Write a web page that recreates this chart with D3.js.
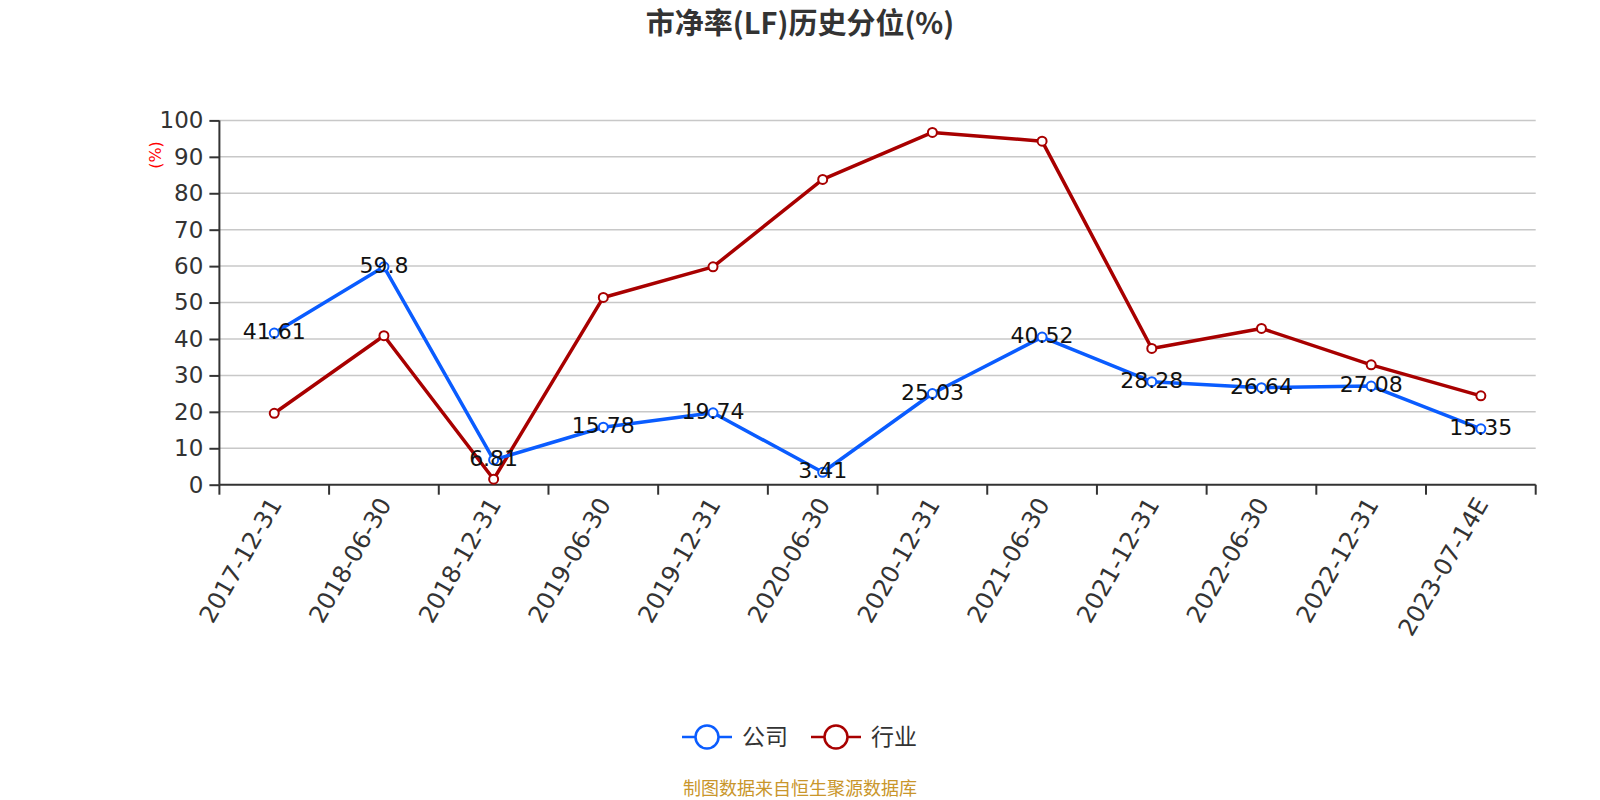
<!DOCTYPE html>
<html>
<head>
<meta charset="utf-8">
<script src="https://cdn.jsdelivr.net/npm/d3@7"></script>
<style>
  html, body { margin: 0; padding: 0; background: #fff; }
  svg { display: block; }
</style>
</head>
<body>
<svg id="chart" width="1600" height="800"></svg>
<script>
const categories = ["2017-12-31","2018-06-30","2018-12-31","2019-06-30","2019-12-31","2020-06-30","2020-12-31","2021-06-30","2021-12-31","2022-06-30","2022-12-31","2023-07-14E"];
const companyValues = [41.61, 59.8, 6.81, 15.78, 19.74, 3.41, 25.03, 40.52, 28.28, 26.64, 27.08, 15.35];
const industryValues = [19.6, 40.9, 1.5, 51.4, 59.8, 83.8, 96.7, 94.3, 37.4, 42.9, 32.9, 24.4];
const yTicks = [0, 10, 20, 30, 40, 50, 60, 70, 80, 90, 100];
const seriesNames = ["公司", "行业"];
const seriesColors = ["#0a5cff", "#a80000"];

const svg = d3.select("#chart");
const margin = { left: 219.4, right: 1535.7, top: 120.4, bottom: 484.7 };
const numFont = "'DejaVu Sans', 'Noto Sans CJK SC', sans-serif";
const cjkFont = "'Noto Sans CJK SC', 'DejaVu Sans', sans-serif";

const x = d3.scaleBand().domain(categories).range([margin.left, margin.right]).padding(0);
const y = d3.scaleLinear().domain([0, 100]).range([margin.bottom, margin.top]);
const cx = d => x(d) + x.bandwidth() / 2;

// Title
svg.append("text")
  .attr("x", 800).attr("y", 34)
  .attr("text-anchor", "middle")
  .attr("font-family", cjkFont)
  .attr("font-weight", "bold")
  .attr("font-size", 29)
  .attr("fill", "#333")
  .text("市净率(LF)历史分位(%)");

// Grid lines
svg.append("g").selectAll("line")
  .data(yTicks.filter(t => t > 0))
  .join("line")
  .attr("x1", margin.left).attr("x2", margin.right)
  .attr("y1", d => y(d)).attr("y2", d => y(d))
  .attr("stroke", "#c8c8c8").attr("stroke-width", 1.5);

// Y axis
const yAxis = svg.append("g")
  .attr("transform", `translate(${margin.left},0)`)
  .call(d3.axisLeft(y).tickValues(yTicks).tickSize(10).tickPadding(6));
yAxis.select(".domain").attr("stroke", "#333").attr("stroke-width", 2).attr("d", `M0,${margin.top}V${margin.bottom}`);
yAxis.selectAll(".tick line").attr("stroke", "#333").attr("stroke-width", 2);
yAxis.selectAll(".tick text").attr("font-family", numFont).attr("font-size", 23).attr("fill", "#333");

// Y unit
svg.append("text")
  .attr("transform", "translate(161,155) rotate(-90)")
  .attr("text-anchor", "middle")
  .attr("font-family", numFont)
  .attr("font-size", 16)
  .attr("fill", "#ff0000")
  .text("(%)");

// X axis
const xAxis = svg.append("g")
  .attr("transform", `translate(0,${margin.bottom})`)
  .call(d3.axisBottom(x).tickSize(0).tickFormat(""));
xAxis.select(".domain").attr("stroke", "#333").attr("stroke-width", 2).attr("d", `M${margin.left},0H${margin.right}`);
const bounds = categories.map(c => x(c)).concat([margin.right]);
xAxis.append("g").selectAll("line")
  .data(bounds).join("line")
  .attr("x1", d => d).attr("x2", d => d)
  .attr("y1", 0).attr("y2", 10)
  .attr("stroke", "#333").attr("stroke-width", 2);
xAxis.append("g").selectAll("text")
  .data(categories).join("text")
  .attr("transform", d => `translate(${cx(d) + 1},${15}) rotate(-60)`)
  .attr("text-anchor", "end")
  .attr("dy", "0.35em")
  .attr("font-family", numFont)
  .attr("font-size", 24)
  .attr("fill", "#333")
  .text(d => d);

// Lines
const allSeries = [companyValues, industryValues];
const line = d3.line().x((d, i) => cx(categories[i])).y(d => y(d));
[1, 0].forEach(si => {
  const vals = allSeries[si];
  const g = svg.append("g");
  g.append("path")
    .attr("d", line(vals))
    .attr("fill", "none")
    .attr("stroke", seriesColors[si])
    .attr("stroke-width", 3.5)
    .attr("stroke-linejoin", "round");
  g.selectAll("circle").data(vals).join("circle")
    .attr("cx", (d, i) => cx(categories[i]))
    .attr("cy", d => y(d))
    .attr("r", 4.5)
    .attr("fill", "#fff")
    .attr("stroke", seriesColors[si])
    .attr("stroke-width", 2);
});

// Data labels (company)
svg.append("g").selectAll("text")
  .data(companyValues).join("text")
  .attr("x", (d, i) => cx(categories[i]))
  .attr("y", d => y(d) + 6)
  .attr("text-anchor", "middle")
  .attr("font-family", numFont)
  .attr("font-size", 22)
  .attr("fill", "#111")
  .text(d => String(d));

// Legend
const legendItems = [
  { name: seriesNames[0], color: seriesColors[0], x0: 682 },
  { name: seriesNames[1], color: seriesColors[1], x0: 811 }
];
const lg = svg.append("g");
legendItems.forEach(it => {
  lg.append("line")
    .attr("x1", it.x0).attr("x2", it.x0 + 50)
    .attr("y1", 737).attr("y2", 737)
    .attr("stroke", it.color).attr("stroke-width", 2.5);
  lg.append("circle")
    .attr("cx", it.x0 + 25).attr("cy", 737).attr("r", 11.5)
    .attr("fill", "#fff").attr("stroke", it.color).attr("stroke-width", 2.5);
  lg.append("text")
    .attr("x", it.x0 + 60).attr("y", 745)
    .attr("font-family", cjkFont)
    .attr("font-size", 23)
    .attr("fill", "#333")
    .text(it.name);
});

// Footer
svg.append("text")
  .attr("x", 800).attr("y", 795)
  .attr("text-anchor", "middle")
  .attr("font-family", cjkFont)
  .attr("font-size", 18)
  .attr("fill", "#c9962b")
  .text("制图数据来自恒生聚源数据库");
</script>
</body>
</html>
